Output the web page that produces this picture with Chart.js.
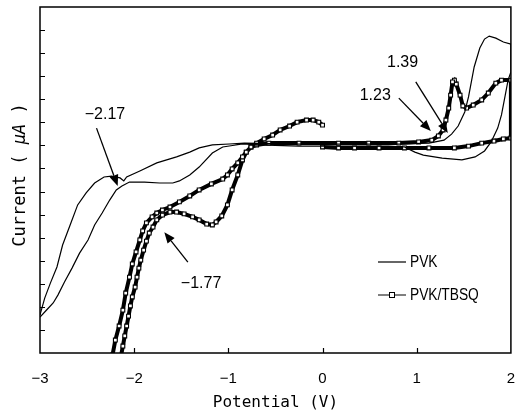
<!DOCTYPE html>
<html>
<head>
<meta charset="utf-8">
<script src="https://cdn.jsdelivr.net/npm/chart.js@4"></script>
<style>
html,body{margin:0;padding:0;background:#fff;}
#wrap{width:516px;height:414px;}
</style>
</head>
<body>
<div id="wrap"><canvas id="c" width="516" height="414"></canvas></div>
<script>
// ---- data (potential in V, current in arbitrary µA units) ----
const xTickValues = [-3, -2, -1, 0, 1, 2];
const seriesNames = ['PVK', 'PVK/TBSQ'];

const pvkV = [
  -3.00,-2.95,-2.89,-2.82,-2.76,-2.68,-2.60,-2.51,-2.42,-2.32,-2.24,-2.15,-2.11,-2.08,-1.94,-1.76,-1.55,-1.41,-1.31,-1.17,-0.99,-0.83,
  -0.25,0.28,0.81,1.13,1.29,1.37,1.44,1.51,1.55,1.61,1.67,1.72,1.77,1.84,1.92,2.00,
  2.00,1.97,1.94,1.90,1.86,1.79,1.72,1.62,1.48,1.27,1.07,0.98,0.87,0.70,0.28,-0.25,-0.67,-0.85,
  -1.06,-1.17,-1.31,-1.41,-1.52,-1.59,-1.73,-1.89,-2.05,-2.13,-2.19,-2.26,-2.34,-2.42,-2.49,-2.58,-2.66,-2.74,-2.81,-2.86,-2.94,-3.00
];
const pvkI = [
  1.65,2.38,3.03,3.73,4.68,5.55,6.42,6.94,7.37,7.63,7.67,7.59,7.46,7.63,7.89,8.24,8.50,8.71,8.89,9.02,9.06,9.10,
  9.06,9.06,9.06,9.10,9.23,9.49,9.84,10.45,11.10,12.40,13.22,13.61,13.74,13.65,13.48,13.39,
  12.18,11.83,11.18,10.32,9.75,9.15,8.76,8.50,8.37,8.45,8.58,8.71,8.93,8.97,8.97,8.97,9.02,9.06,
  8.93,8.67,8.06,7.72,7.46,7.37,7.37,7.41,7.41,7.24,7.07,6.63,6.07,5.55,4.90,4.33,3.68,3.08,2.51,2.17,1.82,1.56
];

const tbsqV = [
  0.00,0.17,0.34,0.60,0.87,1.13,1.40,1.55,1.69,1.82,1.92,2.00,
  2.00,1.90,1.84,1.76,1.69,1.60,1.53,1.49,1.46,1.42,1.40,1.38,1.36,1.34,1.31,1.28,1.23,1.16,1.02,
  0.81,0.49,0.17,-0.25,-0.57,-0.70,-0.76,-0.81,-0.85,-0.90,-0.96,-1.01,-1.07,-1.13,-1.17,-1.23,-1.31,
  -1.38,-1.47,-1.55,-1.62,-1.70,-1.76,-1.80,-1.84,-1.87,-1.90,-1.93,-1.95,-1.97,-1.99,-2.02,-2.04,
  -2.06,-2.08,-2.10,-2.12,-2.14,-2.16,
  -2.25,-2.23,-2.20,-2.16,-2.12,-2.09,-2.05,-2.02,-1.98,-1.94,-1.91,-1.87,-1.81,-1.76,-1.70,-1.62,
  -1.52,-1.41,-1.31,-1.18,-1.06,-1.01,-0.96,-0.90,-0.85,-0.81,-0.76,-0.70,-0.62,-0.53,-0.45,-0.35,
  -0.27,-0.17,-0.10,-0.04,0.00
];
const tbsqI = [
  8.93,8.89,8.89,8.89,8.89,8.89,8.89,8.97,9.10,9.19,9.28,9.32,
  11.83,11.83,11.70,11.27,10.97,10.75,10.62,10.71,11.18,11.66,11.83,11.75,11.18,10.62,10.10,9.67,9.41,9.23,9.15,
  9.10,9.10,9.10,9.10,9.10,9.02,8.93,8.71,8.37,7.72,7.07,6.42,5.94,5.68,5.55,5.59,5.77,
  5.90,6.03,6.11,6.11,5.98,5.77,5.46,5.20,4.85,4.46,4.03,3.68,3.29,2.86,2.43,2.04,
  1.60,1.17,0.74,0.30,-0.13,-0.52,
  -0.52,-0.09,0.56,1.17,1.86,2.60,3.29,3.86,4.38,4.90,5.29,5.64,5.90,6.07,6.20,6.33,
  6.55,6.81,7.07,7.33,7.54,7.72,7.98,8.24,8.50,8.71,8.93,9.10,9.28,9.45,9.67,9.84,
  10.01,10.10,10.10,10.01,9.88
];

// peak annotations: label text, label anchor, arrow tail, arrow tip (in data units)
const peakLabels = ['−2.17', '−1.77', '1.23', '1.39'];
const peakLabelAt = [[-2.31, 10.32], [-1.29, 3.03], [0.56, 11.18], [0.85, 12.57]];
const peakArrowFrom = [[-2.40, 9.75], [-1.43, 3.94], [0.81, 11.05], [0.99, 11.75]];
const peakArrowTo = [[-2.175, 7.24], [-1.68, 5.24], [1.15, 9.62], [1.33, 9.54]];

const toPoints = (xs, ys) => xs.map((x, i) => ({x: x, y: ys[i]}));

const decorPlugin = {
  id: 'decor',
  afterDatasetsDraw(chart) {
    const {ctx, chartArea: a, scales: {x, y}} = chart;
    ctx.save();
    // frame
    ctx.strokeStyle = '#000';
    ctx.lineWidth = 1.5;
    ctx.strokeRect(a.left, a.top, a.right - a.left, a.bottom - a.top);
    // inward ticks
    ctx.lineWidth = 1.2;
    ctx.beginPath();
    y.ticks.forEach(t => {
      if (t.value <= y.min || t.value >= y.max) return;
      const py = Math.round(y.getPixelForValue(t.value)) + 0.5;
      ctx.moveTo(a.left, py); ctx.lineTo(a.left + 5, py);
    });
    x.ticks.forEach(t => {
      if (t.value <= x.min || t.value >= x.max) return;
      const px = Math.round(x.getPixelForValue(t.value)) + 0.5;
      ctx.moveTo(px, a.bottom); ctx.lineTo(px, a.bottom - 5);
    });
    ctx.stroke();

    // peak annotations
    ctx.fillStyle = '#000';
    ctx.font = '16px "Liberation Sans", Arial, sans-serif';
    ctx.textAlign = 'center';
    ctx.textBaseline = 'middle';
    peakLabels.forEach((txt, i) => {
      ctx.fillText(txt, x.getPixelForValue(peakLabelAt[i][0]), y.getPixelForValue(peakLabelAt[i][1]));
      const x0 = x.getPixelForValue(peakArrowFrom[i][0]), y0 = y.getPixelForValue(peakArrowFrom[i][1]);
      const x1 = x.getPixelForValue(peakArrowTo[i][0]), y1 = y.getPixelForValue(peakArrowTo[i][1]);
      const ang = Math.atan2(y1 - y0, x1 - x0);
      const hl = 11, hw = 4.5;
      ctx.lineWidth = 1.3;
      ctx.beginPath();
      ctx.moveTo(x0, y0);
      ctx.lineTo(x1 - hl * Math.cos(ang), y1 - hl * Math.sin(ang));
      ctx.stroke();
      ctx.beginPath();
      ctx.moveTo(x1, y1);
      ctx.lineTo(x1 - hl * Math.cos(ang) + hw * Math.sin(ang), y1 - hl * Math.sin(ang) - hw * Math.cos(ang));
      ctx.lineTo(x1 - hl * Math.cos(ang) - hw * Math.sin(ang), y1 - hl * Math.sin(ang) + hw * Math.cos(ang));
      ctx.closePath();
      ctx.fill();
    });

    // legend
    const legY = [262, 295];
    chart.data.datasets.forEach((ds, i) => {
      const ly = legY[i];
      ctx.strokeStyle = '#000';
      ctx.lineWidth = i === 0 ? 1.2 : 1;
      ctx.beginPath(); ctx.moveTo(378, ly); ctx.lineTo(406, ly); ctx.stroke();
      if (i === 1) {
        ctx.fillStyle = '#fff';
        ctx.fillRect(389.5, ly - 2.5, 5, 5);
        ctx.strokeRect(389.5, ly - 2.5, 5, 5);
      }
      ctx.fillStyle = '#000';
      ctx.save();
      ctx.translate(410, ly);
      ctx.scale(0.86, 1);
      ctx.font = '16px "Liberation Sans", Arial, sans-serif';
      ctx.textAlign = 'left';
      ctx.textBaseline = 'middle';
      ctx.fillText(ds.label, 0, 1);
      ctx.restore();
    });

    // y axis title with italic unit
    ctx.save();
    ctx.translate(21, 175);
    ctx.rotate(-Math.PI / 2);
    const parts = [['Current ( ', 'normal'], ['μA', 'italic'], [' )', 'normal']];
    let total = 0;
    parts.forEach(p => { ctx.font = p[1] + ' 17px "DejaVu Sans Mono", monospace'; p.w = ctx.measureText(p[0]).width; total += p.w; });
    let cx = -total / 2;
    ctx.textAlign = 'left';
    ctx.textBaseline = 'middle';
    ctx.fillStyle = '#000';
    parts.forEach(p => { ctx.font = p[1] + ' 17px "DejaVu Sans Mono", monospace'; ctx.fillText(p[0], cx, 0); cx += p.w; });
    ctx.restore();

    ctx.restore();
  }
};

new Chart(document.getElementById('c').getContext('2d'), {
  type: 'scatter',
  data: {
    datasets: [
      {
        label: seriesNames[0],
        data: toPoints(pvkV, pvkI),
        showLine: true,
        borderColor: '#000',
        borderWidth: 1.2,
        pointRadius: 0,
        tension: 0,
        fill: false
      },
      {
        label: seriesNames[1],
        data: toPoints(tbsqV, tbsqI),
        showLine: true,
        borderColor: '#000',
        borderWidth: 4,
        tension: 0,
        fill: false,
        pointStyle: 'rect',
        pointRadius: 2.7,
        pointBorderWidth: 1.1,
        pointBorderColor: '#000',
        pointBackgroundColor: '#fff'
      }
    ]
  },
  options: {
    responsive: false,
    animation: false,
    devicePixelRatio: 1,
    layout: {padding: {top: 7, right: 3.5, left: 0, bottom: 0}},
    plugins: {legend: {display: false}, tooltip: {enabled: false}},
    scales: {
      x: {
        type: 'linear',
        min: -3,
        max: 2,
        afterFit(s) { s.height = 61; s.paddingLeft = 0; s.paddingRight = 0; },
        afterBuildTicks(s) { s.ticks = xTickValues.map(v => ({value: v})); },
        grid: {display: false, drawTicks: false},
        border: {display: false},
        ticks: {
          color: '#000',
          font: {family: '"Liberation Sans", Arial, sans-serif', size: 15},
          padding: 17,
          maxRotation: 0,
          autoSkip: false,
          callback: v => String(v).replace('-', '−')
        },
        title: {
          display: true,
          text: 'Potential (V)',
          color: '#000',
          font: {family: '"DejaVu Sans Mono", monospace', size: 16},
          padding: {top: 0, bottom: 2}
        }
      },
      y: {
        type: 'linear',
        min: 0,
        max: 15,
        afterFit(s) { s.width = 40; s.paddingTop = 0; s.paddingBottom = 0; },
        grid: {display: false, drawTicks: false},
        border: {display: false},
        ticks: {display: false, stepSize: 1}
      }
    }
  },
  plugins: [decorPlugin]
});
</script>
</body>
</html>
